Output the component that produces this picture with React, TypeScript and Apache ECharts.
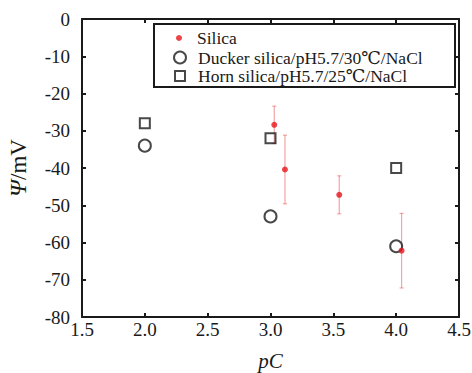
import React, { useEffect, useRef } from "react";
import * as echarts from "echarts";

const xTicks = [1.5, 2.0, 2.5, 3.0, 3.5, 4.0, 4.5];
const silicaX = [3.03, 3.115, 3.547, 4.043];
const silicaY = [-28.4, -40.4, -47.2, -62.2];
const silicaErr = [5.0, 9.2, 5.1, 10.0];
const duckerX = [2.0, 3.0, 4.0];
const duckerY = [-34, -53, -61];
const hornX = [2.0, 3.0, 4.0];
const hornY = [-28, -32, -40];

const FONT = "Times New Roman, Liberation Serif, DejaVu Serif, serif";
const INK = "#1a1a1a";

export default function App() {
  const ref = useRef<HTMLDivElement>(null);
  useEffect(() => {
    if (!ref.current) return;
    const chart = echarts.init(ref.current, undefined, { renderer: "svg" });
    const axisCommon = {
      type: "value" as const,
      axisLine: { show: true, onZero: false, lineStyle: { color: INK, width: 2 } },
      axisTick: { show: true, inside: true, length: 4, lineStyle: { color: INK, width: 2 } },
      splitLine: { show: false },
    };
    const errData = silicaX.map((x, i) => [x, silicaY[i] - silicaErr[i], silicaY[i] + silicaErr[i]]);
    const legendText = (p: number) => ({
      fontFamily: FONT,
      fontSize: 17.5,
      color: INK,
      lineHeight: 17,
      padding: [0, 0, 0, p],
    });
    chart.setOption({
      animation: false,
      backgroundColor: "#fff",
      textStyle: { fontFamily: FONT },
      grid: { left: 82, right: 13, top: 19, bottom: 56, containLabel: false, outerBoundsMode: "none" },
      xAxis: [
        {
          ...axisCommon,
          position: "bottom",
          min: 1.5,
          max: 4.5,
          interval: 0.5,
          axisLabel: {
            color: INK,
            fontFamily: FONT,
            fontSize: 19,
            margin: 3,
            formatter: (v: number) => (xTicks.includes(v) ? v.toFixed(1) : ""),
          },
          name: "{i|pC}",
          nameLocation: "middle",
          nameGap: 33,
          nameTextStyle: {
            rich: { i: { fontFamily: FONT, fontStyle: "italic", fontSize: 21, color: INK } },
          },
        },
        {
          ...axisCommon,
          position: "top",
          min: 1.5,
          max: 4.5,
          interval: 0.5,
          axisLabel: { show: false },
        },
      ],
      yAxis: [
        {
          ...axisCommon,
          position: "left",
          min: -80,
          max: 0,
          interval: 10,
          axisLabel: { color: INK, fontFamily: FONT, fontSize: 19, margin: 12 },
          name: "{i|Ψ}{n|/mV}",
          nameLocation: "middle",
          nameGap: 52,
          nameTextStyle: {
            rich: {
              i: { fontFamily: FONT, fontStyle: "italic", fontSize: 24, color: INK },
              n: { fontFamily: FONT, fontSize: 23, color: INK },
            },
          },
        },
        {
          ...axisCommon,
          position: "right",
          min: -80,
          max: 0,
          interval: 10,
          axisLabel: { show: false },
        },
      ],
      graphic: [
        {
          type: "rect",
          z: 1,
          shape: { x: 154, y: 24, width: 301, height: 63 },
          style: { fill: "#fff", stroke: INK, lineWidth: 2 },
        },
      ],
      legend: [
        {
          data: ["Silica"],
          left: 176,
          top: 29,
          padding: 0,
          itemWidth: 6,
          itemHeight: 6,
          z: 10,
          textStyle: legendText(10),
        },
        {
          data: ["Ducker silica/pH5.7/30℃/NaCl"],
          left: 173,
          top: 48.5,
          padding: 0,
          itemWidth: 12,
          itemHeight: 12,
          z: 10,
          textStyle: legendText(7),
        },
        {
          data: ["Horn silica/pH5.7/25℃/NaCl"],
          left: 174,
          top: 67,
          padding: 0,
          itemWidth: 10,
          itemHeight: 10,
          z: 10,
          textStyle: legendText(8),
        },
      ],
      series: [
        {
          type: "custom",
          name: "err",
          z: 2,
          data: errData,
          renderItem: (params: any, api: any) => {
            const x = api.value(0);
            const lo = api.coord([x, api.value(1)]);
            const hi = api.coord([x, api.value(2)]);
            const cap = 2;
            const style = { stroke: "rgba(235,90,90,0.55)", lineWidth: 1.2 };
            return {
              type: "group",
              children: [
                { type: "line", shape: { x1: lo[0], y1: lo[1], x2: hi[0], y2: hi[1] }, style },
                { type: "line", shape: { x1: lo[0] - cap, y1: lo[1], x2: lo[0] + cap, y2: lo[1] }, style },
                { type: "line", shape: { x1: hi[0] - cap, y1: hi[1], x2: hi[0] + cap, y2: hi[1] }, style },
              ],
            };
          },
        },
        {
          type: "scatter",
          name: "Ducker silica/pH5.7/30℃/NaCl",
          symbol: "circle",
          symbolSize: 12,
          z: 3,
          itemStyle: { color: "rgba(255,255,255,0)", borderColor: INK, borderWidth: 2 },
          data: duckerX.map((x, i) => [x, duckerY[i]]),
        },
        {
          type: "scatter",
          name: "Horn silica/pH5.7/25℃/NaCl",
          symbol: "rect",
          symbolSize: 10,
          z: 3,
          itemStyle: { color: "rgba(255,255,255,0)", borderColor: INK, borderWidth: 2 },
          data: hornX.map((x, i) => [x, hornY[i]]),
        },
        {
          type: "scatter",
          name: "Silica",
          symbol: "circle",
          symbolSize: 6,
          z: 4,
          itemStyle: { color: "#e8141c" },
          data: silicaX.map((x, i) => [x, silicaY[i]]),
        },
      ],
    });
    return () => chart.dispose();
  }, []);
  return <div ref={ref} style={{ width: 472, height: 373, position: "absolute", left: 0, top: 0 }} />;
}
